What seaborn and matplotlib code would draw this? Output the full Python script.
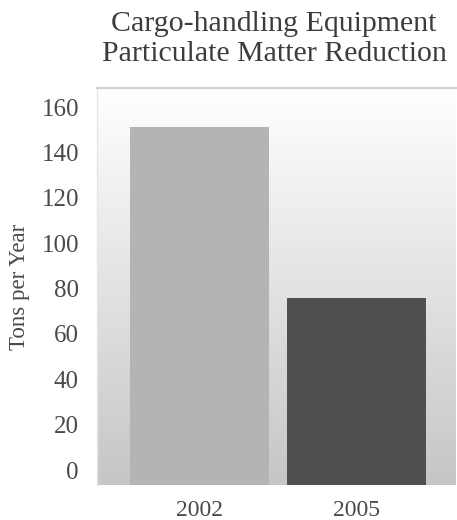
import numpy as np
import pandas as pd
import matplotlib
matplotlib.use("Agg")
import matplotlib.pyplot as plt
import seaborn as sns

# ---- data ----
years = ["2002", "2005"]
tons = [151, 76]
bar_colors = ["#b4b4b4", "#505050"]
y_ticks = [0, 20, 40, 60, 80, 100, 120, 140, 160]
title_lines = ["Cargo-handling Equipment", "Particulate Matter Reduction"]
y_label = "Tons per Year"

df = pd.DataFrame({"year": years, "tons": tons})

sns.set_theme(style="white")
plt.rcParams["font.family"] = ["Liberation Serif", "DejaVu Serif"]

W, H, DPI = 457, 520, 100
fig = plt.figure(figsize=(W / DPI, H / DPI), dpi=DPI)
left, right, top, bottom = 97, 456, 88, 485
ax = fig.add_axes([left / W, 1 - bottom / H, (right - left) / W, (bottom - top) / H])

sns.barplot(data=df, x="year", y="tons", hue="year", palette=bar_colors,
            legend=False, width=0.89, ax=ax, zorder=2, saturation=1)

y_floor, y_top = -6.6, 168.4
x_lo, x_hi = -0.656, 1.637

# bars start at the axis floor, as in the original chart
for p in ax.patches:
    p.set_y(y_floor)
    p.set_height(p.get_height() - y_floor)
    p.set_linewidth(0)

# vertical gradient background (grey at bottom, white at top)
grad = np.linspace(0, 1, 256).reshape(-1, 1)
ax.imshow(grad, extent=[x_lo, x_hi, y_floor, y_top], origin="lower",
          aspect="auto", cmap=matplotlib.colors.LinearSegmentedColormap.from_list(
              "bg", ["#c6c6c6", "#ffffff"]), zorder=0)
ax.set_xlim(x_lo, x_hi)
ax.set_ylim(y_floor, y_top)

ax.set_yticks(y_ticks)
ax.set_yticklabels([str(v) for v in y_ticks])
ax.tick_params(axis="y", length=0, pad=13, labelsize=18, labelcolor="#4a4a4a")
ax.tick_params(axis="x", length=0, pad=11, labelsize=17, labelcolor="#4a4a4a")
ax.set_xlabel("")
ax.set_ylabel(y_label, fontsize=16.5, color="#4a4a4a", labelpad=8)

for s in ax.spines.values():
    s.set_visible(False)
ax.spines["top"].set_visible(True)
ax.spines["top"].set_color("#d0d0d0")
ax.spines["top"].set_linewidth(1.5)
ax.spines["left"].set_visible(True)
ax.spines["left"].set_color("#e6e6e6")
ax.spines["left"].set_linewidth(1)

cx = 274 / W
fig.text(cx, 1 - 24 / H, title_lines[0], ha="center", va="center",
         fontsize=21.5, color="#3c3c3c")
fig.text(cx, 1 - 54 / H, title_lines[1], ha="center", va="center",
         fontsize=21.5, color="#3c3c3c")

fig.savefig("out.png", dpi=DPI, facecolor="white")
